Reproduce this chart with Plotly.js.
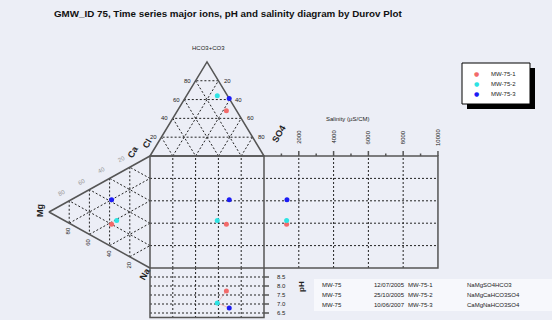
<!DOCTYPE html>
<html><head><meta charset="utf-8">
<script src="https://cdn.plot.ly/plotly-3.0.1.min.js"></script>
<style>html,body{margin:0;padding:0;background:#eceef6;}#chart{width:552px;height:320px;}</style>
</head><body><div id="chart"></div>
<script>
// ---- data ----
const sampleNames = ['MW-75-1', 'MW-75-2', 'MW-75-3'];
const sampleColors = ['#f26a6a', '#2de3e3', '#1c1cf5'];
const wellIds = ['MW-75', 'MW-75', 'MW-75'];
const sampleDates = ['12/07/2005', '25/10/2005', '10/06/2007'];
const waterTypes = ['NaMgSO4HCO3', 'NaMgCaHCO3SO4', 'CaMgNaHCO3SO4'];
const hco3 = [48, 64, 61];   // % meq anions
const so4 = [43, 27, 39];
const cl = [9, 9, 0];
const ca = [20, 26, 42];     // % meq cations
const mg = [38, 33, 38];
const na = [42, 41, 20];
const salinity = [1300, 1300, 1320];
const ph = [7.72, 7.06, 6.78];
const pctTicks = [20, 40, 60, 80];
const salTicks = [2000, 4000, 6000, 8000, 10000];
const phTicks = [8.5, 8.0, 7.5, 7.0, 6.5];

// ---- geometry ----
const W = 552, H = 320;
const SX = 1.14, SY = 1.12, OX = 150, OY = 268;
const ux = px => (px - OX) / SX, uy = py => (OY - py) / SY;
const pxX = u => OX + u * SX, pxY = u => OY - u * SY;
const A = {x: 50, y: 184}, Lc = {x: 0, y: 100}, Rc = {x: 100, y: 100};
const Mc = {x: -88.6, y: 50}, Tc = {x: 0, y: 100}, Bc = {x: 0, y: 0};
const SALW = 152.6, SALMAX = 10000;
const PHTOP = 9, PHBOT = 6.25, PHU = 16.07;
const phY = v => (v - PHTOP) * PHU;
const salX = v => 100 + v / SALMAX * SALW;
function tern(p1, p2, p3, w1, w2, w3) {
  const s = w1 + w2 + w3;
  return {x: (p1.x * w1 + p2.x * w2 + p3.x * w3) / s, y: (p1.y * w1 + p2.y * w2 + p3.y * w3) / s};
}
function mix(p, q, k) { return {x: p.x * k + q.x * (1 - k), y: p.y * k + q.y * (1 - k)}; }

// outlines
const ox = [], oy = [];
function poly(pts) { pts.forEach(p => { ox.push(p.x); oy.push(p.y); }); ox.push(null); oy.push(null); }
poly([Lc, A, Rc, Lc]);
poly([Tc, Mc, Bc]);
poly([{x:0,y:0},{x:0,y:100},{x:100,y:100},{x:100,y:0},{x:0,y:0}]);
poly([{x:100,y:100},{x:100+SALW,y:100},{x:100+SALW,y:0},{x:100,y:0}]);
poly([{x:0,y:0},{x:0,y:phY(PHBOT)},{x:100,y:phY(PHBOT)},{x:100,y:0}]);
for (let s = 1000; s <= SALMAX; s += 1000) {
  const len = (s % 2000 === 0) ? 5 : 2.5;
  poly([{x: salX(s), y: 100}, {x: salX(s), y: 100 + len / SY}]);
}
phTicks.forEach(v => poly([{x: 100, y: phY(v)}, {x: 100 + 5 / SX, y: phY(v)}]));

// grid
const gx = [], gy = [];
function seg(p, q) { gx.push(p.x, q.x, null); gy.push(p.y, q.y, null); }
function triGrid(c) {
  pctTicks.forEach(t => {
    const k = t / 100;
    for (let i = 0; i < 3; i++) {
      const a = c[i], b = c[(i + 1) % 3], d = c[(i + 2) % 3];
      seg(mix(a, b, k), mix(a, d, k));
    }
  });
}
triGrid([A, Rc, Lc]);
triGrid([Mc, Tc, Bc]);
pctTicks.forEach(t => {
  seg({x: t, y: 0}, {x: t, y: 100});
  seg({x: 0, y: t}, {x: 100 + SALW, y: t});
  seg({x: t, y: 0}, {x: t, y: phY(PHBOT)});
});
salTicks.slice(0, -1).forEach(s => seg({x: salX(s), y: 0}, {x: salX(s), y: 100}));
phTicks.forEach(v => seg({x: 0, y: phY(v)}, {x: 100, y: phY(v)}));

const traces = [
  {x: gx, y: gy, mode: 'lines', line: {color: '#222', width: 1, dash: '2px,2px'}, hoverinfo: 'skip', showlegend: false},
  {x: ox, y: oy, mode: 'lines', line: {color: '#555', width: 1.5}, hoverinfo: 'skip', showlegend: false}
];

const phLineX = [], phLineY = [];
for (let i = 0; i < sampleNames.length; i++) {
  const an = tern(A, Rc, Lc, hco3[i], so4[i], cl[i]);
  phLineX.push(an.x); phLineY.push(phY(ph[i]));
}
traces.push({x: phLineX, y: phLineY, mode: 'lines', line: {color: 'rgba(240,130,130,0.5)', width: 1}, hoverinfo: 'skip', showlegend: false});

for (let i = 0; i < sampleNames.length; i++) {
  const an = tern(A, Rc, Lc, hco3[i], so4[i], cl[i]);
  const ct = tern(Mc, Tc, Bc, mg[i], ca[i], na[i]);
  traces.push({
    x: [an.x, ct.x, an.x, salX(salinity[i]), an.x],
    y: [an.y, ct.y, ct.y, ct.y, phY(ph[i])],
    mode: 'markers', name: sampleNames[i], showlegend: false,
    marker: {color: sampleColors[i], size: 5}
  });
}

// annotations (pixel positions)
const ann = [];
const FAM = 'Liberation Sans, Arial';
function txt(px, py, text, size, opts) {
  ann.push(Object.assign({xref: 'paper', yref: 'paper', x: px / W, y: 1 - py / H, text: text, showarrow: false,
    xanchor: 'center', yanchor: 'middle', font: {size: size, color: '#222', family: FAM}}, opts || {}));
}
txt(228, 14, '<b>GMW_ID 75, Time series major ions, pH and salinity diagram by Durov Plot</b>', 9.8, {font: {size: 9.8, color: '#111', family: FAM}});
txt(208, 48, 'HCO3+CO3', 6);
pctTicks.forEach(t => {
  const k = t / 100;
  const pl = mix(A, Lc, k), pr = mix(A, Rc, k);
  txt(pxX(pl.x) - 8, pxY(pl.y), String(t), 6);
  txt(pxX(pr.x) + 9, pxY(pr.y), String(100 - t), 6);
  const pt = mix(Mc, Tc, k), pb = mix(Mc, Bc, k);
  txt(pxX(pt.x) - 8, pxY(pt.y) - 8, String(t), 6, {textangle: -29, font: {size: 6, color: '#999', family: FAM}});
  txt(pxX(pb.x) - 1, pxY(pb.y) + 8, String(t), 6, {textangle: -90});
});
txt(40, 211, '<b>Mg</b>', 9, {textangle: -90});
txt(133, 152, '<b>Ca</b>', 9, {textangle: -60});
txt(147, 144, '<b>Cl</b>', 9, {textangle: -60});
txt(279, 134, '<b>SO4</b>', 9, {textangle: -60});
txt(145, 274, '<b>Na</b>', 9, {textangle: -60});
txt(347, 119, 'Salinity (µS/CM)', 6);
salTicks.forEach(s => txt(pxX(salX(s)), 137, String(s), 6, {textangle: -90}));
phTicks.forEach(v => txt(281, pxY(phY(v)), v.toFixed(1), 6));
txt(301, 287, '<b>pH</b>', 8, {textangle: -90});
for (let i = 0; i < sampleNames.length; i++) {
  const py = 285 + i * 10;
  txt(320, py, wellIds[i], 6, {xanchor: 'left'});
  txt(372, py, sampleDates[i], 6, {xanchor: 'left'});
  txt(406, py, sampleNames[i], 6, {xanchor: 'left'});
  txt(465, py, waterTypes[i], 6, {xanchor: 'left'});
}
// legend (manual, compact)
for (let i = 0; i < sampleNames.length; i++) {
  const py = 74 + i * 10;
  txt(476, py, '●', 6, {font: {size: 6, color: sampleColors[i], family: 'DejaVu Sans'}});
  txt(489, py, sampleNames[i], 6, {xanchor: 'left'});
}

const shapes = [
  {type: 'rect', xref: 'paper', yref: 'paper', x0: 314 / W, x1: 1, y0: 1 - 311 / H, y1: 1 - 279 / H,
   fillcolor: '#f7f8fc', line: {width: 0}, layer: 'below'},
  {type: 'rect', xref: 'paper', yref: 'paper', x0: 467 / W, x1: 535 / W, y0: 1 - 109 / H, y1: 1 - 68 / H,
   fillcolor: '#000', line: {width: 0}, layer: 'above'},
  {type: 'rect', xref: 'paper', yref: 'paper', x0: 462 / W, x1: 530 / W, y0: 1 - 104 / H, y1: 1 - 63 / H,
   fillcolor: '#fff', line: {width: 1, color: '#000'}, layer: 'above'}
];

const layout = {
  width: W, height: H, margin: {l: 0, r: 0, t: 0, b: 0},
  paper_bgcolor: '#eceef6', plot_bgcolor: '#eceef6',
  xaxis: {range: [ux(0), ux(W)], visible: false, fixedrange: true},
  yaxis: {range: [uy(H), uy(0)], visible: false, fixedrange: true},
  showlegend: false,
  annotations: ann, shapes: shapes
};
Plotly.newPlot('chart', traces, layout, {displayModeBar: false, staticPlot: true});
</script></body></html>
